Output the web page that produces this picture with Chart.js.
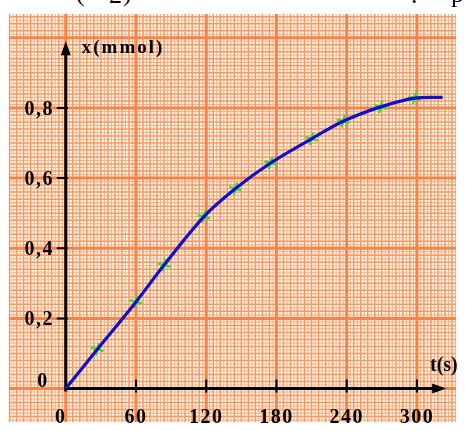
<!DOCTYPE html>
<html>
<head>
<meta charset="utf-8">
<script src="https://cdn.jsdelivr.net/npm/chart.js@4.4.1/dist/chart.umd.min.js"></script>
<style>
    html, body { margin: 0; padding: 0; background: #fff; }
    canvas { display: block; }
</style>
</head>
<body>
<canvas id="kinChart" width="465" height="431"></canvas>
<script>
/* ── DADOS ── */
const tTicks = [0, 60, 120, 180, 240, 300];
const tTickLabels = ['0', '60', '120', '180', '240', '300'];
const xTicks = [0.2, 0.4, 0.6, 0.8];
const xTickLabels = ['0,2', '0,4', '0,6', '0,8'];

// mesures (points verts)
const times = [27, 60, 84, 118, 145, 175, 210, 237, 269, 298];
const amounts = [0.112, 0.247, 0.352, 0.49, 0.57, 0.643, 0.712, 0.762, 0.803, 0.828];

// courbe bleue : origine + mesures + prolongement
const curveT = [0].concat(times, [322]);
const curveX = [0].concat(amounts, [0.830]);

const curvePts = curveT.map((t, i) => ({ x: t, y: curveX[i] }));
const measPts = times.map((t, i) => ({ x: t, y: amounts[i] }));

const SERIF = '"Liberation Serif", "DejaVu Serif", serif';

/* ── PAPIER MILLIMÉTRÉ ── */
const paperPlugin = {
    id: 'paper',
    beforeDatasetsDraw(chart) {
        const { ctx, chartArea: a, scales: { x, y } } = chart;
        ctx.save();
        ctx.fillStyle = '#fff8f0';
        ctx.fillRect(a.left, a.top, a.right - a.left, a.bottom - a.top);

        const passes = [
            { test: i => i % 2 !== 0, color: '#f8b58a', width: 1.1 },
            { test: i => i % 2 === 0 && i % 20 !== 0, color: '#f59a63', width: 1.5 },
            { test: i => i % 20 === 0, color: '#f4844a', width: 3 }
        ];

        passes.forEach(p => {
            ctx.strokeStyle = p.color;
            ctx.lineWidth = p.width;
            ctx.beginPath();
            for (let i = Math.ceil(x.min / 3); i <= Math.floor(x.max / 3); i++) {
                if (!p.test(i)) continue;
                const px = x.getPixelForValue(i * 3);
                ctx.moveTo(px, a.top);
                ctx.lineTo(px, a.bottom);
            }
            for (let k = Math.ceil(y.min * 100); k <= Math.floor(y.max * 100); k++) {
                if (!p.test(k)) continue;
                const py = y.getPixelForValue(k / 100);
                ctx.moveTo(a.left, py);
                ctx.lineTo(a.right, py);
            }
            ctx.stroke();
        });

        /* ── AXES ── */
        const x0 = x.getPixelForValue(0);
        const y0 = y.getPixelForValue(0);
        const yTip = y.getPixelForValue(0.99);
        const xTip = x.getPixelForValue(325);

        ctx.strokeStyle = '#000';
        ctx.fillStyle = '#000';
        ctx.lineWidth = 3;
        ctx.beginPath();
        ctx.moveTo(x0, y0 + 3);
        ctx.lineTo(x0, yTip + 10);
        ctx.moveTo(x0 - 1.5, y0);
        ctx.lineTo(xTip - 10, y0);
        ctx.stroke();

        ctx.beginPath();
        ctx.moveTo(x0, yTip);
        ctx.lineTo(x0 - 5, yTip + 14);
        ctx.lineTo(x0 + 5, yTip + 14);
        ctx.closePath();
        ctx.fill();

        ctx.beginPath();
        ctx.moveTo(xTip, y0);
        ctx.lineTo(xTip - 14, y0 - 5);
        ctx.lineTo(xTip - 14, y0 + 5);
        ctx.closePath();
        ctx.fill();

        // graduations
        ctx.lineWidth = 2;
        ctx.beginPath();
        tTicks.slice(1).forEach(t => {
            const px = x.getPixelForValue(t);
            ctx.moveTo(px, y0 - 9);
            ctx.lineTo(px, y0 + 4);
        });
        xTicks.forEach(v => {
            const py = y.getPixelForValue(v);
            ctx.moveTo(x0 - 9, py);
            ctx.lineTo(x0 + 2, py);
        });
        ctx.stroke();

        // étiquettes
        ctx.font = 'bold 20px ' + SERIF;
        ctx.letterSpacing = '1.5px';
        ctx.textBaseline = 'alphabetic';
        ctx.textAlign = 'center';
        tTicks.forEach((t, i) => {
            const px = i === 0 ? x0 - 5 : x.getPixelForValue(t);
            ctx.fillText(tTickLabels[i], px, 423);
        });
        ctx.textAlign = 'right';
        xTicks.forEach((v, i) => {
            const py = y.getPixelForValue(v);
            ctx.fillText(xTickLabels[i], 54, py + 7);
        });
        ctx.textAlign = 'center';
        ctx.fillText('0', 43, y0 - 2);

        ctx.textAlign = 'left';
        ctx.font = 'bold 19px ' + SERIF;
        ctx.letterSpacing = '2px';
        ctx.fillText('x(mmol)', x0 + 16, yTip + 12);
        ctx.font = 'bold 20px ' + SERIF;
        ctx.letterSpacing = '0px';
        ctx.fillText('t(s)', 430, y0 - 18);
        ctx.restore();
    },
    afterDraw(chart) {
        // fragments du texte coupé en haut de l'image
        const { ctx } = chart;
        ctx.save();
        ctx.fillStyle = '#000';
        ctx.font = '26px ' + SERIF;
        ctx.textBaseline = 'alphabetic';
        ctx.fillText('(', 76, 1);
        ctx.fillText('2', 109, 3);
        ctx.fillText(')', 123, 1);
        ctx.fillText('.', 411, 3);
        ctx.fillText('p', 451, 2);
        ctx.restore();
    }
};

/* ── GRÁFICO ── */
const ctx = document.getElementById('kinChart');

const kinChart = new Chart(ctx, {
    type: 'scatter',
    data: {
        datasets: [{
            label: 'x(t)',
            data: curvePts,
            showLine: true,
            borderColor: '#1010c8',
            borderWidth: 3.2,
            tension: 0.3,
            pointRadius: 0,
            pointHoverRadius: 0
        }, {
            label: 'mesures',
            data: measPts,
            showLine: false,
            pointStyle: 'cross',
            pointRadius: 6.5,
            pointRotation: 15,
            pointBorderColor: '#3ddc3d',
            pointBorderWidth: 2.5,
            borderColor: '#3ddc3d'
        }]
    },
    options: {
        responsive: false,
        animation: false,
        devicePixelRatio: 1,
        layout: {
            padding: { left: 8, top: 14, right: 0, bottom: 0 }
        },
        plugins: {
            legend: { display: false },
            tooltip: { enabled: false }
        },
        scales: {
            x: {
                type: 'linear',
                display: false,
                min: -48.5,
                max: 333.4
            },
            y: {
                type: 'linear',
                display: false,
                min: -0.0954,
                max: 1.0678
            }
        }
    },
    plugins: [paperPlugin]
});
</script>
</body>
</html>
